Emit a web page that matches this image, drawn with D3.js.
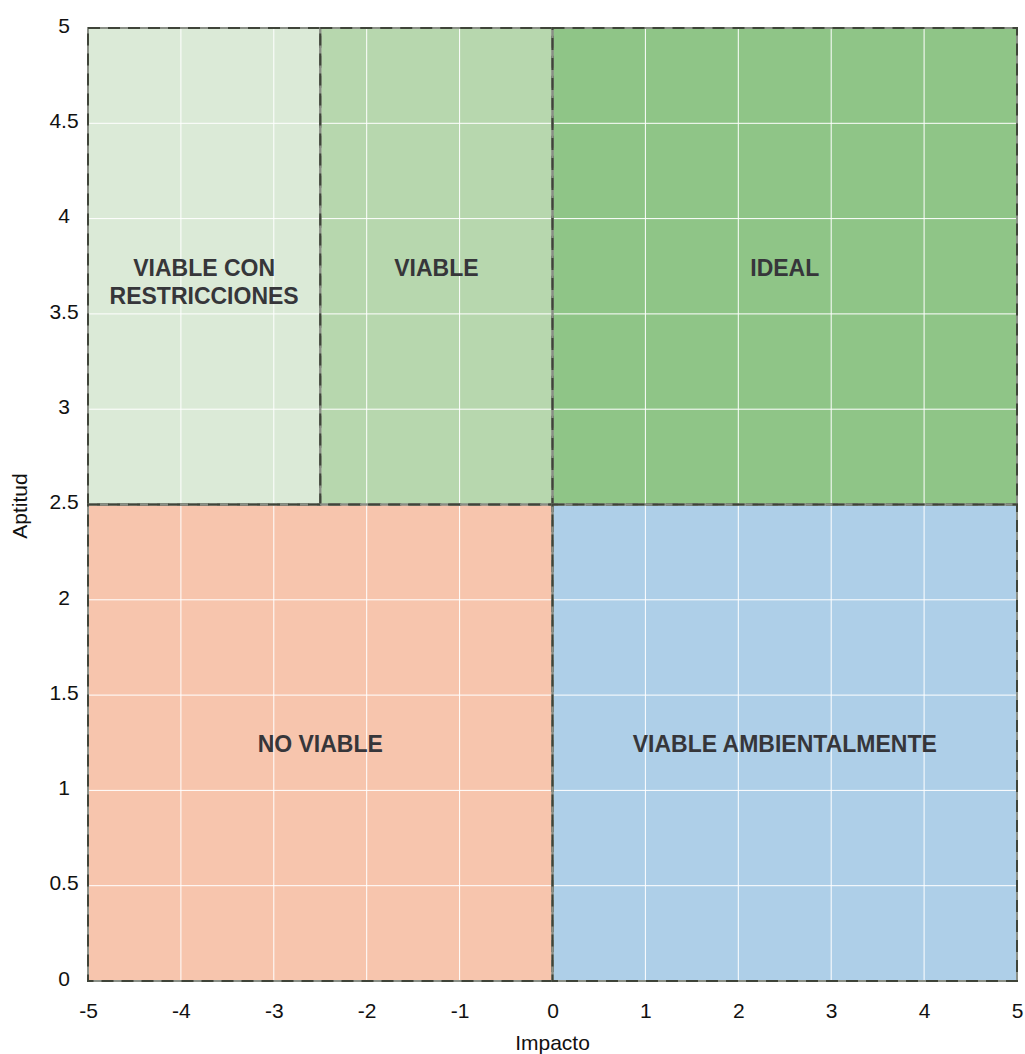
<!DOCTYPE html>
<html lang="es">
<head>
<meta charset="UTF-8">
<title>Aptitud vs Impacto</title>
<script src="https://cdn.jsdelivr.net/npm/d3@7/dist/d3.min.js"></script>
<style>
  body { margin: 0; background: #fff; }
  svg text { font-family: "Liberation Sans", Arial, Helvetica, sans-serif; }
</style>
</head>
<body>
<div class="chart"></div>
<script>
  // zonas: [x0, x1, y0, y1] en unidades de datos
  const zoneNames = ['VIABLE CON|RESTRICCIONES', 'VIABLE', 'IDEAL', 'NO VIABLE', 'VIABLE AMBIENTALMENTE']
  const zoneX0 = [-5, -2.5, 0, -5, 0]
  const zoneX1 = [-2.5, 0, 5, 0, 5]
  const zoneY0 = [2.5, 2.5, 2.5, 0, 0]
  const zoneY1 = [5, 5, 5, 2.5, 2.5]
  const zoneColors = ['#dbead7', '#b7d7ae', '#8fc587', '#f7c5ad', '#aecfe8']

  const xTicks = [-5, -4, -3, -2, -1, 0, 1, 2, 3, 4, 5]
  const yTicks = [0, 0.5, 1, 1.5, 2, 2.5, 3, 3.5, 4, 4.5, 5]

  const width = 1025
  const height = 1054
  const margin = { top: 28, right: 8, bottom: 73, left: 88 }
  const fontFamily = '"Liberation Sans", Arial, Helvetica, sans-serif'

  const x = d3.scaleLinear().domain([-5, 5]).range([margin.left, width - margin.right])
  const y = d3.scaleLinear().domain([0, 5]).range([height - margin.bottom, margin.top])

  const svg = d3.select('.chart').append('svg')
    .attr('width', width)
    .attr('height', height)

  const zones = zoneNames.map((name, i) => ({
    name, x0: zoneX0[i], x1: zoneX1[i], y0: zoneY0[i], y1: zoneY1[i], color: zoneColors[i]
  }))

  // relleno de zonas
  svg.append('g').selectAll('rect')
    .data(zones)
    .enter().append('rect')
    .attr('x', d => x(d.x0))
    .attr('y', d => y(d.y1))
    .attr('width', d => x(d.x1) - x(d.x0))
    .attr('height', d => y(d.y0) - y(d.y1))
    .attr('fill', d => d.color)

  // rejilla blanca
  const grid = svg.append('g')
  grid.selectAll('.vx')
    .data(xTicks.slice(1, -1))
    .enter().append('line')
    .attr('x1', d => x(d)).attr('x2', d => x(d))
    .attr('y1', y(0)).attr('y2', y(5))
    .attr('stroke', '#fff').attr('stroke-width', 1)
  grid.selectAll('.hy')
    .data(yTicks.slice(1, -1))
    .enter().append('line')
    .attr('x1', x(-5)).attr('x2', x(5))
    .attr('y1', d => y(d)).attr('y2', d => y(d))
    .attr('stroke', '#fff').attr('stroke-width', 1)

  // bordes punteados
  const borders = svg.append('g').selectAll('g')
    .data(zones)
    .enter().append('g')
  borders.append('rect')
    .attr('x', d => x(d.x0))
    .attr('y', d => y(d.y1))
    .attr('width', d => x(d.x1) - x(d.x0))
    .attr('height', d => y(d.y0) - y(d.y1))
    .attr('fill', 'none')
    .attr('stroke', '#8a8f86')
    .attr('stroke-width', 2)
  borders.append('rect')
    .attr('x', d => x(d.x0))
    .attr('y', d => y(d.y1))
    .attr('width', d => x(d.x1) - x(d.x0))
    .attr('height', d => y(d.y0) - y(d.y1))
    .attr('fill', 'none')
    .attr('stroke', '#3f4439')
    .attr('stroke-width', 2)
    .attr('stroke-dasharray', '12,8')

  // etiquetas de zona
  svg.append('g').selectAll('text')
    .data(zones)
    .enter().append('text')
    .attr('x', d => x((d.x0 + d.x1) / 2))
    .attr('y', d => y((d.y0 + d.y1) / 2))
    .attr('text-anchor', 'middle')
    .attr('font-size', '23px')
    .attr('font-weight', 'bold')
    .attr('fill', '#36363a')
    .each(function (d) {
      const lines = d.name.split('|')
      d3.select(this).selectAll('tspan')
        .data(lines)
        .enter().append('tspan')
        .attr('x', x((d.x0 + d.x1) / 2))
        .attr('dy', (l, i) => i === 0 ? '0.42em' : '28px')
        .text(l => l)
    })

  // ejes (solo etiquetas)
  const xAxis = d3.axisBottom(x).tickValues(xTicks).tickSize(0).tickPadding(22).tickFormat(d => String(d))
  svg.append('g')
    .attr('transform', `translate(0, ${y(0)})`)
    .call(xAxis)
    .call(g => g.select('.domain').remove())
    .call(g => g.selectAll('text').attr('font-size', '21px').attr('fill', '#111')
      .style('font-family', fontFamily))

  const yAxis = d3.axisLeft(y).tickValues(yTicks).tickSize(0).tickFormat(d => String(d))
  svg.append('g')
    .attr('transform', `translate(${x(-5)}, 0)`)
    .call(yAxis)
    .call(g => g.select('.domain').remove())
    .call(g => g.selectAll('text')
      .attr('x', -24).attr('dy', '0.2em').attr('text-anchor', 'middle')
      .attr('font-size', '21px').attr('fill', '#111')
      .style('font-family', fontFamily))

  svg.append('text')
    .attr('x', x(0))
    .attr('y', 1050)
    .attr('text-anchor', 'middle')
    .attr('font-size', '21px')
    .attr('fill', '#111')
    .text('Impacto')

  svg.append('text')
    .attr('transform', `translate(27, 506) rotate(-90)`)
    .attr('text-anchor', 'middle')
    .attr('font-size', '21px')
    .attr('fill', '#111')
    .text('Aptitud')
</script>
</body>
</html>
